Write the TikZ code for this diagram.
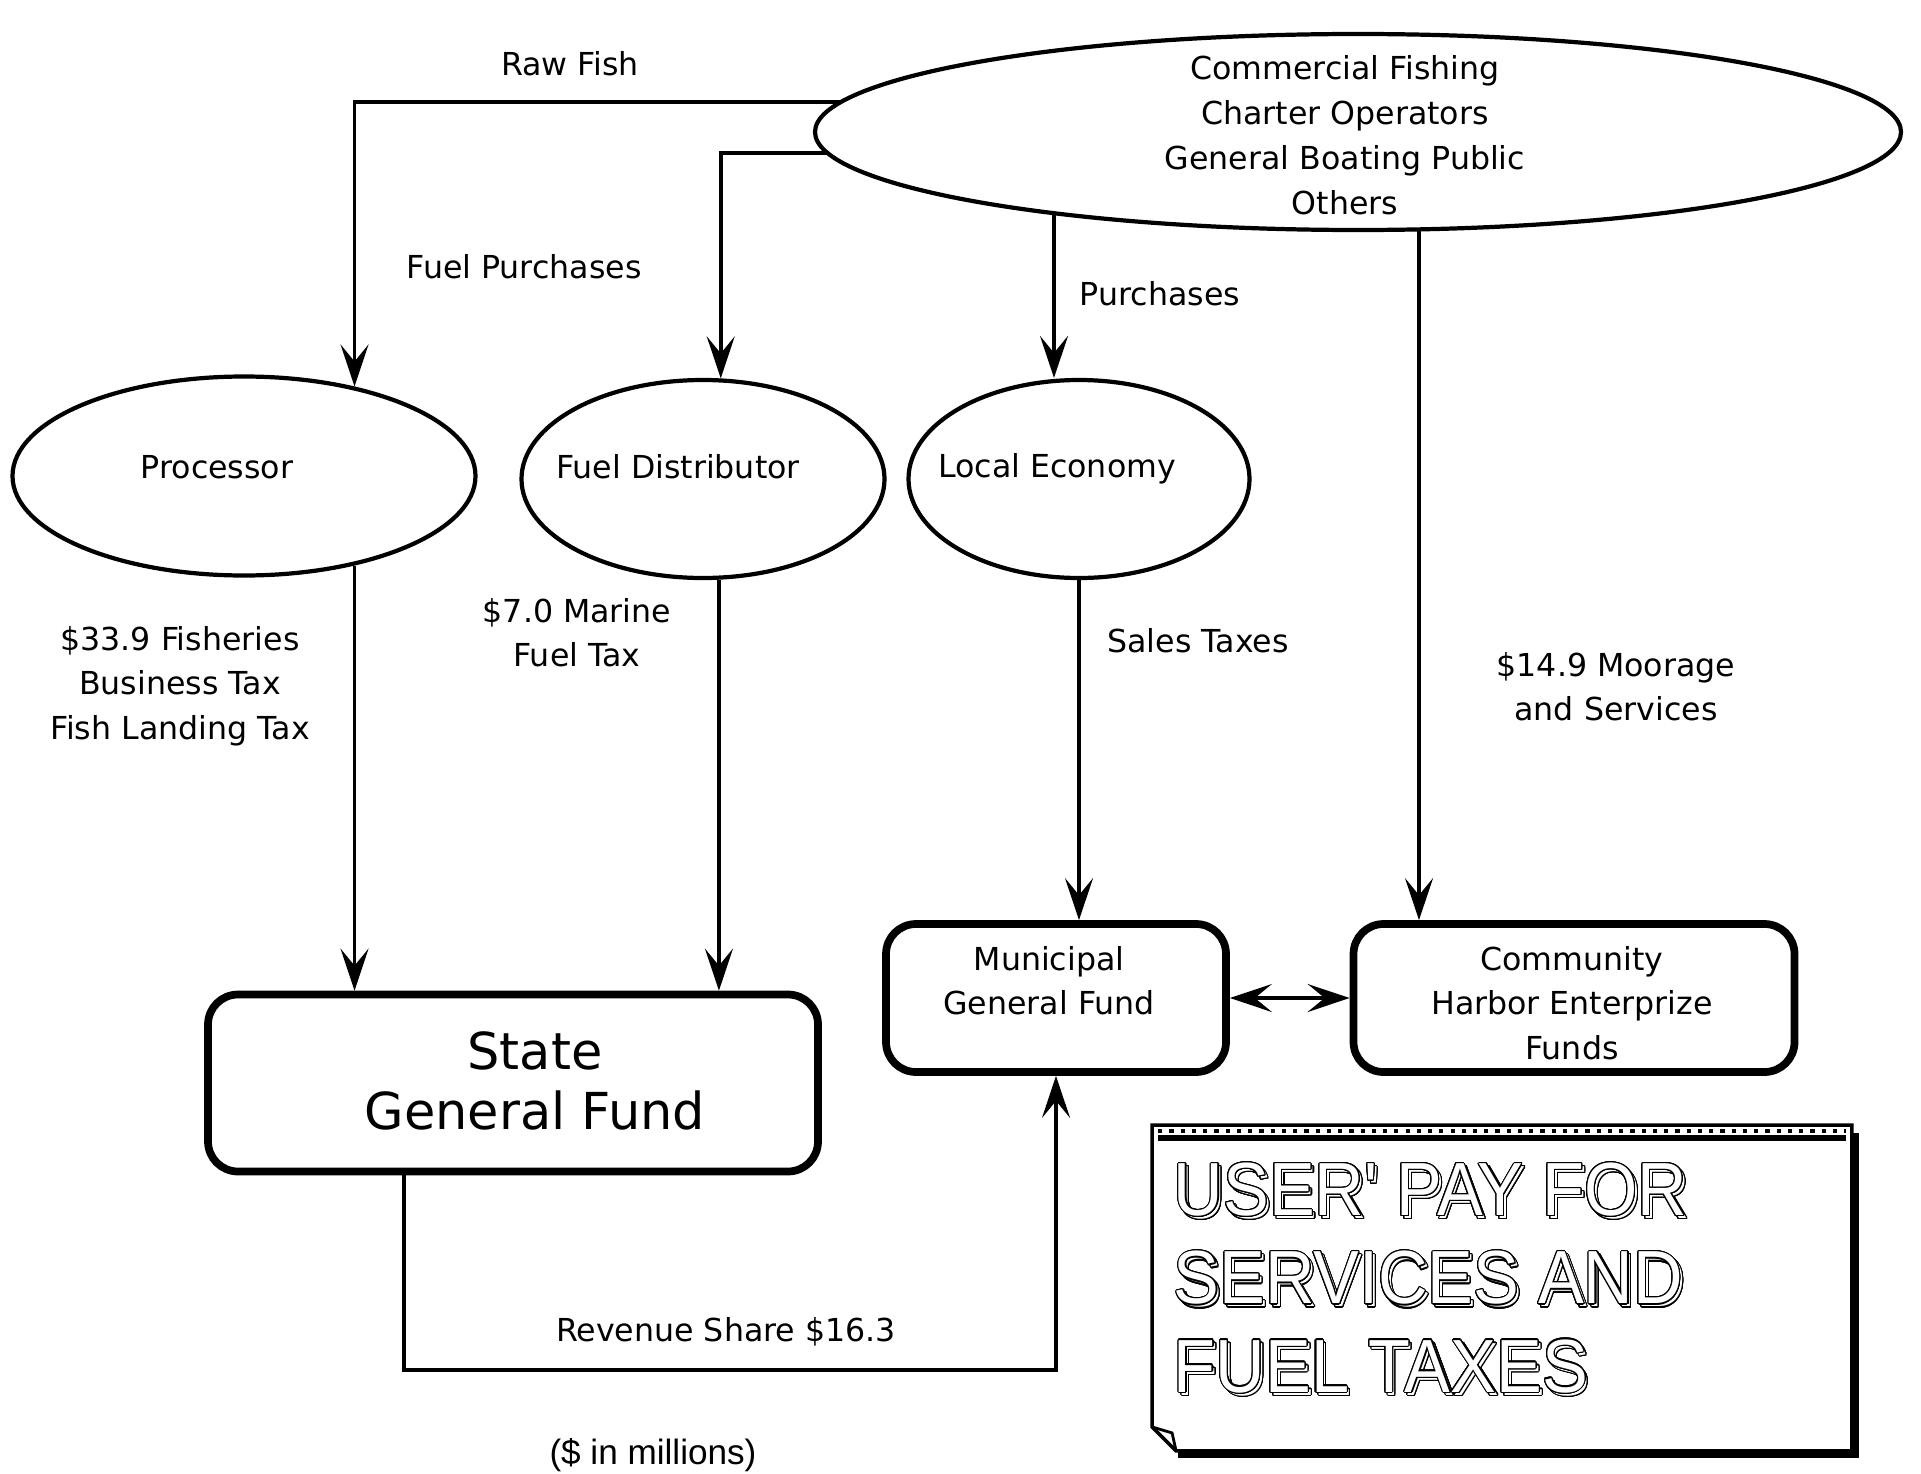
\documentclass[tikz,border=0pt]{standalone}
\usepackage{fontspec}
\setmainfont{DejaVu Sans}
\newfontfamily\arialfont{Liberation Sans}
\usepackage{contour}
\contourlength{0.3pt}
\contournumber{24}
\usetikzlibrary{arrows.meta,shapes.geometric}

\newcommand{\hollow}[1]{\scalebox{1}[1.1]{\rlap{\hspace{0.8pt}\raisebox{-0.8pt}{\contour{black}{#1}}}\contour{black}{#1}}}

\begin{document}
\begin{tikzpicture}[
                x=0.1mm,y=-0.1mm,
                line width=1.1pt,
                flow/.style={-{Stealth[length=4.2mm,width=2.8mm,inset=1.7mm]}},
                twoway/.style={{Stealth[length=4.2mm,width=2.8mm,inset=1.7mm]}-{Stealth[length=4.2mm,width=2.8mm,inset=1.7mm]}},
                oval/.style={draw,ellipse,line width=1.2pt,inner sep=0pt},
                fund/.style={draw,rectangle,rounded corners=3mm,line width=2.2pt,inner sep=0pt},
                lbl/.style={align=center,inner sep=0pt,font=\fontsize{9}{12.6}\selectfont}] %

\useasboundingbox (0,0) rectangle (1921,1474);

% users


                    % 1
                    \node[oval,minimum width=108.6mm,minimum height=19.6mm] (users) at (1358,132) {};
                    \node[lbl,font=\fontsize{9}{12.8}\selectfont] (userstext) at (1345,135) {Commercial Fishing\\Charter Operators\\General Boating Public\\Others};
                    % points on the rim of users
                    \coordinate (rawout) at (841,102);
                    \coordinate (fuelout) at (828,153);
                    \coordinate (buyout) at (1054,213);
                    \coordinate (moorout) at (1419,229);


                    % 2
                    \node[oval,minimum width=46.3mm,minimum height=19.9mm] (proc) at (244,476) {};
                    \node[lbl] (proctext) at (217,467) {Processor};
                    \node[oval,minimum width=36.3mm,minimum height=19.8mm] (fuel) at (703,479) {};
                    \node[lbl] (fueltext) at (678,467) {Fuel Distributor};
                    \node[oval,minimum width=34.1mm,minimum height=19.8mm] (local) at (1079,479) {};
                    \node[lbl] (localtext) at (1057,469) {Local Economy};

                    % 3
                    \node[fund,minimum width=61mm,minimum height=17.7mm] (state) at (513,1083) {};
                    \node[lbl,font=\fontsize{14.5}{17.3}\selectfont] (statetext) at (535,1081) {State\\General Fund};
                    \node[fund,minimum width=34mm,minimum height=14.8mm] (muni) at (1056,998) {};
                    \node[lbl] (munitext) at (1049,981) {Municipal\\General Fund};
                    \node[fund,minimum width=44.1mm,minimum height=14.8mm] (harbor) at (1574,998) {};
                    \node[lbl] (harbortext) at (1572,1003) {Community\\Harbor Enterprize\\Funds};


%%%%%%%%%%%%%%%%%%%%%%%%%%%%%%%%%%%%%%%%%%%%%%%%%%%%%%%%%%%%%%%%%%%%%%%%%%%%%%%%%%%%

                    % flows
                    \draw[flow] (rawout) -| (proc.39);
                    \draw[flow] (fuelout) -| (fuel.80.8);
                    \draw[flow] (buyout) -- (buyout |- local.north);
                    \draw[flow] (moorout) -- (moorout |- harbor.north);

                    \draw[flow] (proc.321) -- (proc.321 |- state.north);
                    \draw[flow] (fuel.279.2) -- (fuel.279.2 |- state.north);
                    \draw[flow] (local.south) -- (local.south |- muni.north);
                    \draw[twoway] (muni.east) -- (harbor.west);

                    \coordinate (rsl) at (404,1370);
                    \coordinate (rsr) at (1056,1370);
                    \draw[flow] (state.south -| rsl) -- (rsl) -- (rsr) -- (muni.south);

                    % labels
                    \node[lbl] (rawlbl) at (570,64) {Raw Fish};
                    \node[lbl] (fuellbl) at (524,267) {Fuel Purchases};
                    \node[lbl] (buylbl) at (1160,294) {Purchases};
                    \node[lbl] (fishtax) at (180,686) {\$33.9 Fisheries\\Business Tax\\Fish Landing Tax};
                    \node[lbl] (fueltax) at (577,633) {\$7.0 Marine\\Fuel Tax};
                    \node[lbl] (salestax) at (1198,641) {Sales Taxes};
                    \node[lbl] (moorlbl) at (1616,687) {\$14.9 Moorage\\and Services};
                    \node[lbl] (revlbl) at (726,1332) {Revenue Share \$16.3};
                    \node[font=\arialfont\fontsize{10}{12}\selectfont] (unitlbl) at (653,1455) {(\$ in millions)};


%%%%%%%%%%%%%%%%%%%%%%%%%%%%%%%%%%%%%%%%%%%%%%%%%%%%%%%%%%%%%%%%%%%%%%%%%%%%%%%%%%%%

                    % slogan
                    \node[minimum width=69.6mm,minimum height=32.2mm,inner sep=0pt] (slogan) at (1502,1288) {};
                    \draw[line width=1pt] (slogan.north west) -- (slogan.north east) -- (slogan.south east) -- ([xshift=2.4mm]slogan.south west) -- ([yshift=2.4mm]slogan.south west) -- cycle;
                    \draw[line width=0.8pt] ([yshift=2.4mm]slogan.south west) -- ([xshift=2mm,yshift=1.8mm]slogan.south west) -- ([xshift=2.4mm]slogan.south west);
                    \draw[line width=1.8pt] ([xshift=0.35mm,yshift=-0.8mm]slogan.north east) -- ([xshift=0.35mm,yshift=-0.35mm]slogan.south east) -- ([xshift=2.6mm,yshift=-0.35mm]slogan.south west);
                    \draw[line width=1.8pt] ([xshift=0.6mm,yshift=-1.3mm]slogan.north west) -- ([xshift=-0.6mm,yshift=-1.3mm]slogan.north east);
                    \draw[line width=1.2pt,dotted] ([xshift=0.6mm,yshift=-0.6mm]slogan.north west) -- ([xshift=-0.6mm,yshift=-0.6mm]slogan.north east);
                    \node[anchor=west,align=left,inner sep=0pt,text=white,font=\arialfont\fontsize{19.5}{25.1}\selectfont] (slogantext) at (1172,1280) {\hollow{USER' PAY FOR}\\\hollow{SERVICES AND}\\\hollow{FUEL TAXES}};


\end{tikzpicture}
\end{document}
